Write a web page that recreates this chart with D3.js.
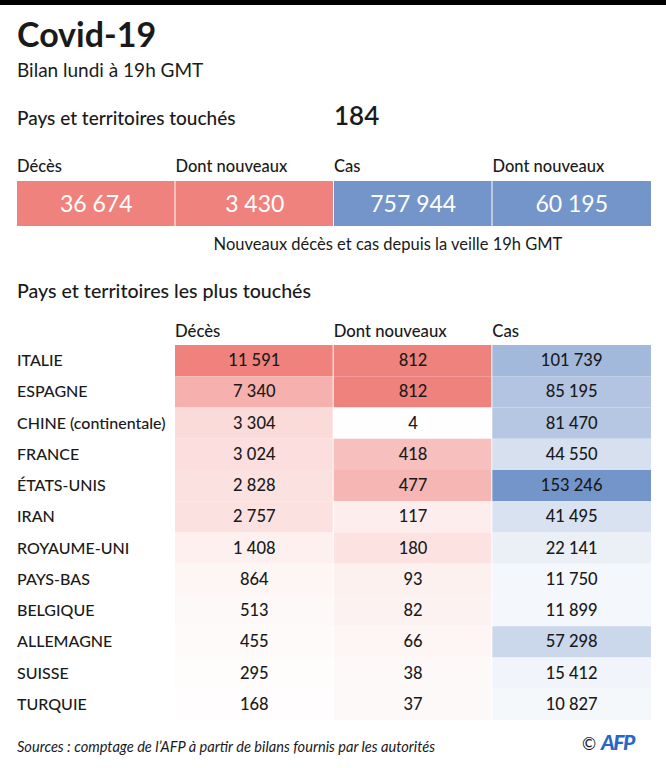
<!DOCTYPE html>
<html>
<head>
<meta charset="utf-8">
<script src="https://cdn.jsdelivr.net/npm/d3@7"></script>
<style>
html,body{margin:0;padding:0;background:#fff;}
svg{display:block;}
text{font-family:Lato,"Noto Sans",sans-serif;fill:#1a1a1a;}
</style>
</head>
<body>
<svg id="chart" width="666" height="768"></svg>
<script>
// ---- data ----
const summaryLabels = ["Décès", "Dont nouveaux", "Cas", "Dont nouveaux"];
const summaryValues = [36674, 3430, 757944, 60195];
const summaryKinds = ["deaths", "deaths", "cases", "cases"];
const paysTouches = 184;

const columnLabels = ["Décès", "Dont nouveaux", "Cas"];
const countries = ["ITALIE", "ESPAGNE", "CHINE (continentale)", "FRANCE", "ÉTATS-UNIS", "IRAN",
  "ROYAUME-UNI", "PAYS-BAS", "BELGIQUE", "ALLEMAGNE", "SUISSE", "TURQUIE"];
const deces = [11591, 7340, 3304, 3024, 2828, 2757, 1408, 864, 513, 455, 295, 168];
const nouveauxDeces = [812, 812, 4, 418, 477, 117, 180, 93, 82, 66, 38, 37];
const cas = [101739, 85195, 81470, 44550, 153246, 41495, 22141, 11750, 11899, 57298, 15412, 10827];

// ---- drawing ----
const RED = "#f0827e", BLUE = "#7495c9";
const fr = d3.formatLocale({decimal: ",", thousands: "\u00a0", grouping: [3], currency: ["", " €"]});
const fmt = fr.format(",d");
const svg = d3.select("#chart");

svg.append("rect").attr("x", 0).attr("y", 0).attr("width", 666).attr("height", 5).attr("fill", "#000");

svg.append("text").attr("x", 17).attr("y", 47).attr("font-size", 34).attr("font-weight", 700).text("Covid-19");
svg.append("text").attr("x", 17).attr("y", 77).attr("font-size", 19).text("Bilan lundi à 19h GMT");
svg.append("text").attr("x", 17).attr("y", 125).attr("font-size", 19).attr("font-weight", 500).text("Pays et territoires touchés");
svg.append("text").attr("x", 334).attr("y", 125).attr("font-size", 26).attr("font-weight", 600).text(paysTouches);

// summary boxes
const sx = d3.scaleBand().domain(d3.range(summaryValues.length)).range([17, 651]);
const sg = svg.append("g");
sg.selectAll("text.lab").data(summaryLabels).join("text").attr("class", "lab")
  .attr("x", (d, i) => sx(i)).attr("y", 172).attr("font-size", 16.5).attr("font-weight", 500).text(d => d);
sg.selectAll("rect").data(summaryValues).join("rect")
  .attr("x", (d, i) => sx(i)).attr("y", 181)
  .attr("width", (d, i) => sx.bandwidth() - (i < summaryValues.length - 1 ? 1 : 0)).attr("height", 45)
  .attr("fill", (d, i) => summaryKinds[i] === "deaths" ? RED : BLUE);
sg.selectAll("text.val").data(summaryValues).join("text").attr("class", "val")
  .attr("x", (d, i) => sx(i) + sx.bandwidth() / 2).attr("y", 212)
  .attr("text-anchor", "middle").attr("font-size", 23).style("fill", "#fff").text(d => fmt(d));
svg.append("text").attr("x", 388).attr("y", 250).attr("text-anchor", "middle").attr("font-size", 16.5)
  .text("Nouveaux décès et cas depuis la veille 19h GMT");

svg.append("text").attr("x", 17).attr("y", 298).attr("font-size", 19.6).attr("font-weight", 500)
  .text("Pays et territoires les plus touchés");

// table
const cols = [deces, nouveauxDeces, cas];
const colColors = [RED, RED, BLUE];
const cx = d3.scaleBand().domain(d3.range(cols.length)).range([175, 651]);
const ry = d3.scaleBand().domain(countries).range([345, 720]);
const colorScales = cols.map((c, j) => d3.scaleLinear().domain([0, d3.max(c)]).range(["#ffffff", colColors[j]]));

svg.selectAll("text.colh").data(columnLabels).join("text").attr("class", "colh")
  .attr("x", (d, i) => cx(i)).attr("y", 337).attr("font-size", 16.7).attr("font-weight", 500).text(d => d);

const tg = svg.append("g");
cols.forEach((c, j) => {
  const g = tg.append("g");
  g.selectAll("rect").data(c).join("rect")
    .attr("x", cx(j)).attr("y", (d, i) => ry(countries[i]))
    .attr("width", cx.bandwidth() - (j < cols.length - 1 ? 1 : 0)).attr("height", ry.bandwidth())
    .attr("fill", d => colorScales[j](d));
  g.selectAll("text").data(c).join("text")
    .attr("x", cx(j) + cx.bandwidth() / 2).attr("y", (d, i) => ry(countries[i]) + ry.bandwidth() / 2 + 5.5)
    .attr("text-anchor", "middle").attr("font-size", 16.5).attr("font-weight", 500).text(d => fmt(d));
});
svg.selectAll("text.row").data(countries).join("text").attr("class", "row")
  .attr("x", 17).attr("y", d => ry(d) + ry.bandwidth() / 2 + 5.5).attr("font-size", 16).attr("font-weight", 500).text(d => d);

// footer
svg.append("text").attr("x", 17).attr("y", 752).attr("font-size", 14.6).attr("font-style", "italic")
  .text("Sources : comptage de l’AFP à partir de bilans fournis par les autorités");
svg.append("text").attr("x", 582).attr("y", 750).attr("font-size", 17).text("©");
svg.append("text").attr("x", 601).attr("y", 750).attr("font-size", 21).attr("font-weight", 900)
  .attr("font-style", "italic").style("fill", "#2a66c9").attr("letter-spacing", -1.5).text("AFP");
</script>
</body>
</html>
